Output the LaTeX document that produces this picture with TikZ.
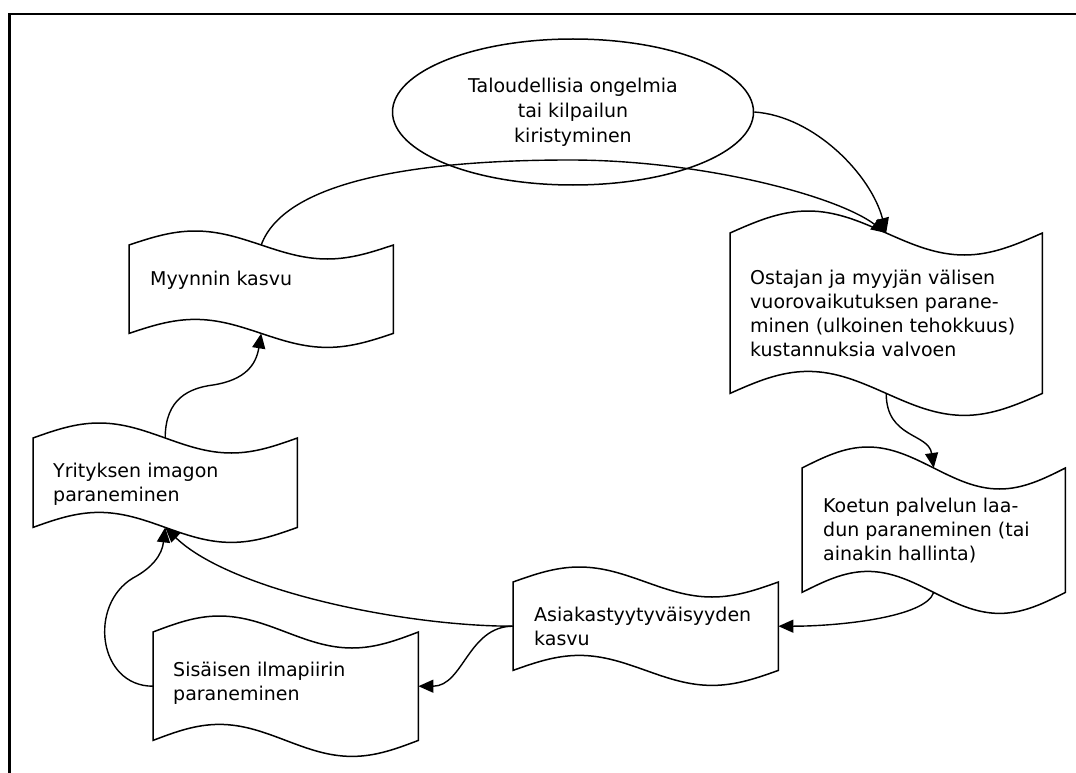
\documentclass[tikz,border=0pt]{standalone}
\usepackage{fontspec}
\setmainfont{DejaVu Sans}
\usetikzlibrary{arrows.meta,calc,shapes.geometric}

% Wavy "punched tape" outline drawn round a named rectangular node.
% #1 = node name, #2 = wave amplitude
\newcommand\tapeoutline[2]{%
  \draw[tapeline] (#1.north west)
      sin ($(#1.north west)!0.5!(#1.north)+(0,-#2)$) cos (#1.north)
      sin ($(#1.north)!0.5!(#1.north east)+(0,#2)$) cos (#1.north east)
      -- (#1.south east)
      sin ($(#1.south east)!0.5!(#1.south)+(0,#2)$) cos (#1.south)
      sin ($(#1.south)!0.5!(#1.south west)+(0,-#2)$) cos (#1.south west)
      -- cycle;}

\begin{document}
\begin{tikzpicture}[x=1pt,y=-1pt,
  tapebox/.style={inner sep=0pt, anchor=north west},
  tapeline/.style={line width=1.5pt},
  tapetext/.style={anchor=west, align=left, inner sep=0pt,
                   font=\fontsize{19}{24}\selectfont},
  link/.style={line width=1.4pt, -{Triangle[length=15pt,width=13pt]}},
  borderline/.style={line width=2.2pt}]
\useasboundingbox (0,0) rectangle (1076,773);

% page border (top and left)
\draw[borderline] (9.5,780) -- (9.5,14) -- (1085,14);

% starting condition
\node[draw, line width=1.5pt, ellipse, minimum width=361pt, minimum height=146pt,
      inner sep=0pt, align=center, font=\fontsize{19}{25}\selectfont]
      (el) at (573,112) {Taloudellisia ongelmia\\tai kilpailun\\kiristyminen};

% tape boxes
\node[tapebox, minimum width=312pt, minimum height=160pt] (os) at (730,233) {};
\node[tapebox, minimum width=263pt, minimum height=124pt] (ko) at (802,468) {};
\node[tapebox, minimum width=265pt, minimum height=88pt]  (as) at (513,582) {};
\node[tapebox, minimum width=265pt, minimum height=108pt] (si) at (153,632) {};
\node[tapebox, minimum width=264pt, minimum height=89pt]  (yr) at (33,438) {};
\node[tapebox, minimum width=264pt, minimum height=88pt]  (my) at (129,245) {};

\tapeoutline{os}{22}
\tapeoutline{ko}{21}
\tapeoutline{as}{15}
\tapeoutline{si}{16}
\tapeoutline{yr}{15}
\tapeoutline{my}{14}

% texts
\node[tapetext] (ostxt) at ($(os.west)+(20,0)$)
  {Ostajan ja myyjän välisen\\vuorovaikutuksen parane-\\minen (ulkoinen tehokkuus)\\kustannuksia valvoen};
\node[tapetext] (kotxt) at ($(ko.west)+(21,0)$)
  {Koetun palvelun laa-\\dun paraneminen (tai\\ainakin hallinta)};
\node[tapetext] (astxt) at ($(as.west)+(21,0)$)
  {Asiakastyytyväisyyden\\kasvu};
\node[tapetext] (sitxt) at ($(si.west)+(20,-3)$)
  {Sisäisen ilmapiirin\\paraneminen};
\node[tapetext] (yrtxt) at ($(yr.west)+(20,2)$)
  {Yrityksen imagon\\paraneminen};
\node[tapetext] (mytxt) at ($(my.west)+(21,-9)$)
  {Myynnin kasvu};

% connectors
\draw[link] (el.east) .. controls +(60,4) and +(-15,-58) .. (os.north);
\draw[link] (my.north) .. controls (285,180) and (420,160) .. (570,160)
            .. controls (700,160) and (835,195) .. (os.north);
\draw[link] (os.south) .. controls +(0,45) and +(-5,-35) .. (ko.north);
\draw[link] (ko.south) .. controls +(-8,25) and +(60,0) .. (as.east);
\draw[link] (as.west) .. controls +(-110,0) and +(65,63) .. (yr.south);
\draw[link] (as.west) .. controls +(-45,0) and +(45,0) .. (si.east);
\draw[link] (si.west) .. controls +(-55,0) and (88,605) .. (133,578)
            .. controls (152,568) and (162,555) .. (yr.south);
\draw[link] (yr.north) .. controls +(0,-40) and (190,388) .. (213,385)
            .. controls (245,380) and (256,365) .. (my.south);
\end{tikzpicture}
\end{document}
